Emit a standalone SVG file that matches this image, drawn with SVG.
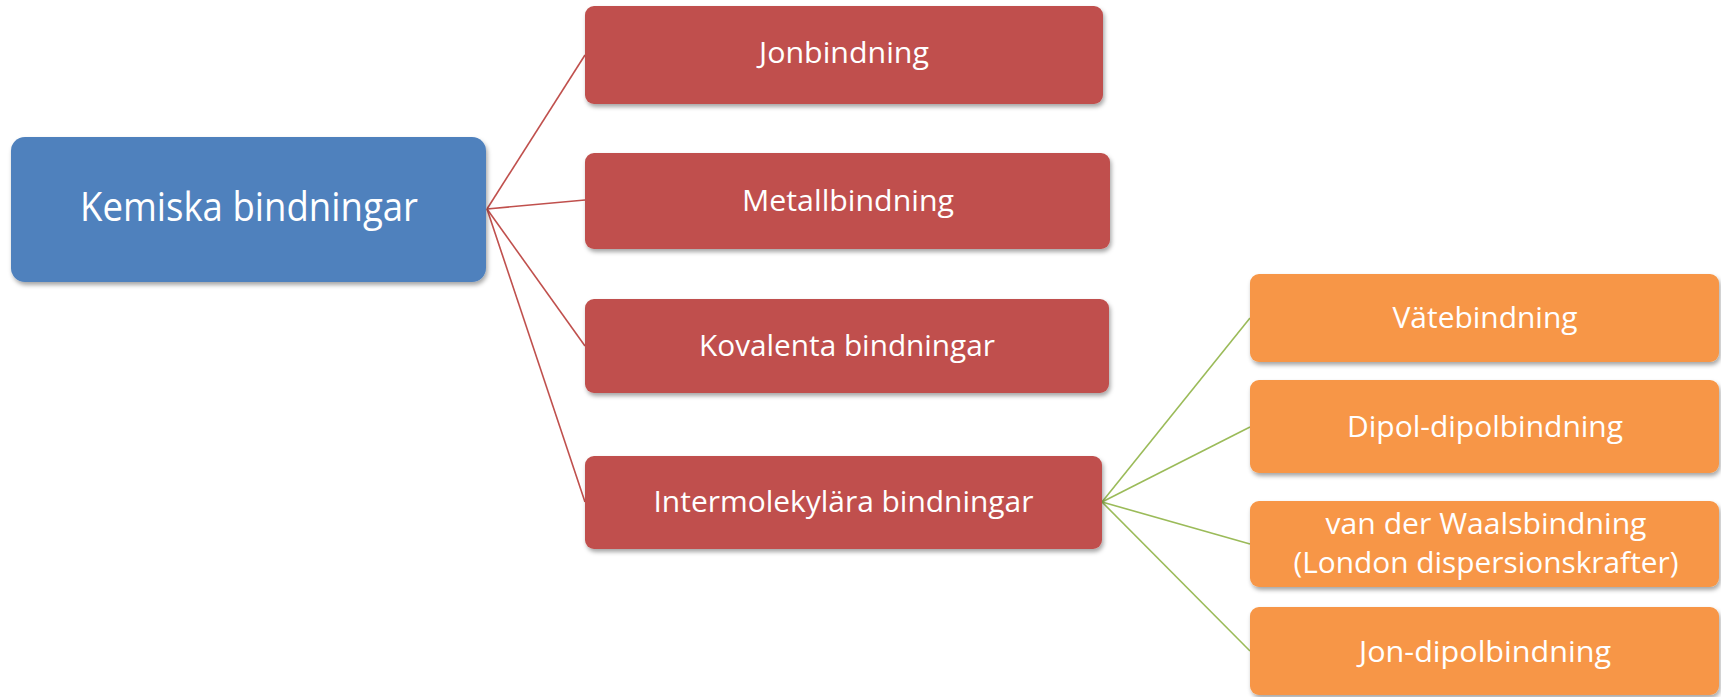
<svg xmlns="http://www.w3.org/2000/svg" width="1721" height="697" viewBox="0 0 1721 697">
<style>
.lbl{font-family:"Open Sans","Noto Sans","Liberation Sans",sans-serif;fill:#ffffff;text-anchor:middle;font-size:30px}
.root-lbl{font-size:41px}
.blue{fill:#4F81BD}
.red{fill:#C0504D}
.orange{fill:#F79646}
.c-red{stroke:#C0504D;stroke-width:1.6;fill:none}
.c-green{stroke:#9BBB59;stroke-width:1.6;fill:none}
</style>
<defs>
<filter id="sh" x="-5%" y="-10%" width="110%" height="130%">
<feDropShadow dx="1.5" dy="3" stdDeviation="2.2" flood-color="#000000" flood-opacity="0.35"/>
</filter>
</defs>
<rect width="1721" height="697" fill="#ffffff"/>
<g id="connectors">
<line class="c-red" x1="487" y1="209" x2="585" y2="55"/>
<line class="c-red" x1="487" y1="209" x2="585" y2="200"/>
<line class="c-red" x1="487" y1="209" x2="585" y2="346"/>
<line class="c-red" x1="487" y1="209" x2="585" y2="502"/>
<line class="c-green" x1="1102" y1="502" x2="1250" y2="318"/>
<line class="c-green" x1="1102" y1="502" x2="1250" y2="427"/>
<line class="c-green" x1="1102" y1="502" x2="1250" y2="544"/>
<line class="c-green" x1="1102" y1="502" x2="1250" y2="651"/>
</g>
<g id="kemiska-bindningar">
<rect class="blue" x="11" y="137" width="475" height="145" rx="14" filter="url(#sh)"/>
<text class="lbl root-lbl" x="249" y="221" textLength="338" lengthAdjust="spacingAndGlyphs">Kemiska bindningar</text>
</g>
<g id="jonbindning">
<rect class="red" x="585" y="6" width="518" height="98" rx="9" filter="url(#sh)"/>
<text class="lbl" x="844" y="63" textLength="170" lengthAdjust="spacingAndGlyphs">Jonbindning</text>
</g>
<g id="metallbindning">
<rect class="red" x="585" y="153" width="525" height="96" rx="9" filter="url(#sh)"/>
<text class="lbl" x="848" y="211" textLength="212" lengthAdjust="spacingAndGlyphs">Metallbindning</text>
</g>
<g id="kovalenta-bindningar">
<rect class="red" x="585" y="299" width="524" height="94" rx="9" filter="url(#sh)"/>
<text class="lbl" x="847" y="356" textLength="296" lengthAdjust="spacingAndGlyphs">Kovalenta bindningar</text>
</g>
<g id="intermolekylara-bindningar">
<rect class="red" x="585" y="456" width="517" height="93" rx="9" filter="url(#sh)"/>
<text class="lbl" x="843.5" y="512" textLength="380" lengthAdjust="spacingAndGlyphs">Intermolekylära bindningar</text>
</g>
<g id="vatebindning">
<rect class="orange" x="1250" y="274" width="469" height="88" rx="9" filter="url(#sh)"/>
<text class="lbl" x="1485" y="328" textLength="185" lengthAdjust="spacingAndGlyphs">Vätebindning</text>
</g>
<g id="dipol-dipolbindning">
<rect class="orange" x="1250" y="380" width="469" height="93" rx="9" filter="url(#sh)"/>
<text class="lbl" x="1485" y="437" textLength="276" lengthAdjust="spacingAndGlyphs">Dipol-dipolbindning</text>
</g>
<g id="van-der-waalsbindning">
<rect class="orange" x="1250" y="501" width="469" height="86" rx="9" filter="url(#sh)"/>
<text class="lbl" x="1486" y="534" textLength="321" lengthAdjust="spacingAndGlyphs">van der Waalsbindning</text>
<text class="lbl" x="1486" y="573" textLength="385" lengthAdjust="spacingAndGlyphs">(London dispersionskrafter)</text>
</g>
<g id="jon-dipolbindning">
<rect class="orange" x="1250" y="607" width="469" height="88" rx="9" filter="url(#sh)"/>
<text class="lbl" x="1485" y="662" textLength="252" lengthAdjust="spacingAndGlyphs">Jon-dipolbindning</text>
</g>
</svg>
